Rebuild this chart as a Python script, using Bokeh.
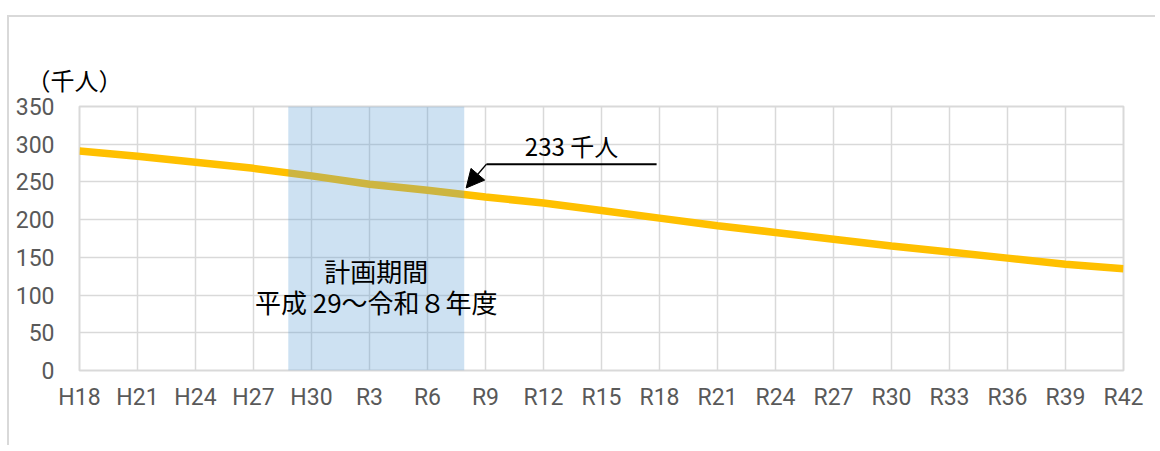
from bokeh.plotting import figure
from bokeh.models import Range1d, Arrow, NormalHead
from bokeh.core.properties import value
from bokeh.embed import file_html
from bokeh.resources import INLINE

# ---- data ----
years = [2006, 2009, 2012, 2015, 2018, 2021, 2024, 2026, 2027, 2030,
         2033, 2036, 2039, 2042, 2045, 2048, 2051, 2054, 2057, 2060]
population = [291, 284, 276, 268, 258, 247, 239, 233, 230, 222,
              212, 202, 192, 183, 174, 165, 157, 149, 141, 135]
tick_years = list(range(2006, 2061, 3))
tick_labels = ["H18", "H21", "H24", "H27", "H30", "R3", "R6", "R9", "R12", "R15",
               "R18", "R21", "R24", "R27", "R30", "R33", "R36", "R39", "R42"]
y_ticks = [0, 50, 100, 150, 200, 250, 300, 350]
plan_start = 2016.8
plan_end = 2025.9
plan_title = "計画期間"
plan_period = "平成 29～令和８年度"
callout_year = 2026
callout_value = 233
callout_text = "233 千人"
unit_label = "（千人）"

JP = "Noto Sans CJK JP"
NUM = "Roboto"

p = figure(width=1148, height=430, output_backend="svg", toolbar_location=None,
           x_range=Range1d(2006, 2060), y_range=Range1d(0, 350),
           min_border_left=70, min_border_right=34, min_border_top=89, min_border_bottom=77)
p.styles = {"margin-top": "15px", "margin-left": "7px",
            "border-left": "2px solid #d9d9d9", "border-top": "2px solid #d9d9d9"}

p.background_fill_color = "white"
p.border_fill_color = "white"
p.outline_line_color = "#d9d9d9"
p.outline_line_width = 2

p.title.text = unit_label
p.title.align = "left"
p.title.offset = -53
p.title.standoff = 19
p.title.text_font = JP
p.title.text_font_size = "24px"
p.title.text_font_style = "normal"
p.title.text_color = "black"

p.xaxis.ticker = tick_years
p.xaxis.major_label_overrides = {y: l for y, l in zip(tick_years, tick_labels)}
p.yaxis.ticker = y_ticks
for ax in (p.xaxis, p.yaxis):
    ax.axis_line_color = None
    ax.major_tick_line_color = None
    ax.minor_tick_line_color = None
    ax.major_label_text_font = NUM
    ax.major_label_text_font_size = "23px"
    ax.major_label_text_color = "#595959"
p.xaxis.major_label_standoff = 7
p.yaxis.major_label_standoff = 19

p.grid.grid_line_color = "#d9d9d9"
p.grid.grid_line_width = 1.5

p.line(years, population, line_color="#FFC000", line_width=7.5)

p.quad(left=[plan_start], right=[plan_end], bottom=[0], top=[350],
       fill_color="#5B9BD5", fill_alpha=0.3, line_color=None)

band_mid = (plan_start + plan_end) / 2
p.text(x=[band_mid], y=[132], text=[plan_title], text_font=value(JP),
       text_font_size="26px", text_align="center", text_baseline="middle", text_color="black")
p.text(x=[band_mid], y=[92], text=[plan_period], text_font=value(JP),
       text_font_size="26px", text_align="center", text_baseline="middle", text_color="black")

# callout
elbow_x = callout_year + 1.05
end_x = callout_year + 9.85
arm_y = callout_value + 40.6
p.line([elbow_x, end_x], [arm_y, arm_y], line_color="black", line_width=2)
p.add_layout(Arrow(end=NormalHead(size=18, fill_color="black", line_color="black"),
                   x_start=elbow_x, y_start=arm_y, x_end=callout_year, y_end=callout_value + 9,
                   line_color="black", line_width=1.5))
p.text(x=[(elbow_x + end_x) / 2], y=[arm_y], text=[callout_text], text_font=value(JP),
       text_font_size="24px", text_align="center", text_baseline="bottom",
       y_offset=-1, text_color="black")

open("out.html", "w").write(file_html(p, INLINE))
